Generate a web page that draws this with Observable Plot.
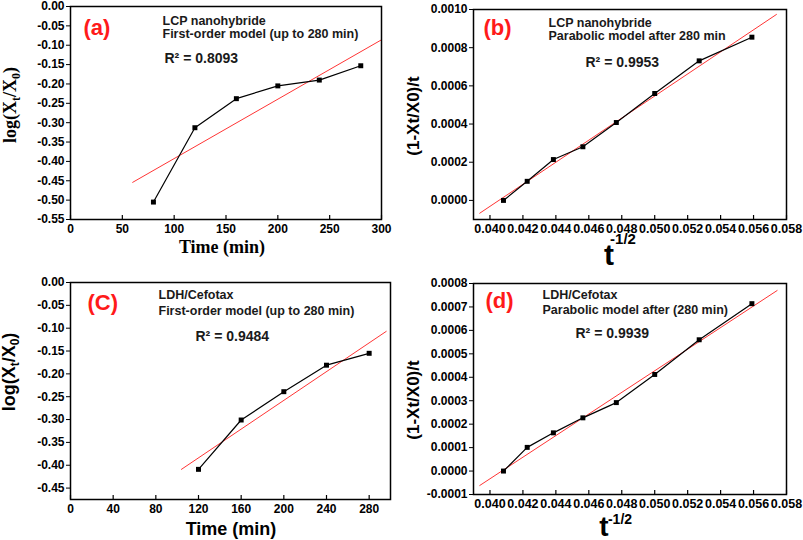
<!DOCTYPE html>
<html><head><meta charset="utf-8">
<script src="https://cdn.jsdelivr.net/npm/d3@7"></script>
<script src="https://cdn.jsdelivr.net/npm/@observablehq/plot@0.6"></script>
<style>
body{margin:0;background:#fff;}
#wrap{position:relative;width:803px;height:540px;overflow:hidden;background:#fff;}
#wrap svg{position:absolute;}
</style></head><body><div id="wrap"></div>
<script>
// ---- data ----
const timeA = [80, 120, 160, 200, 240, 280];
const logXA = [-0.505, -0.313, -0.238, -0.205, -0.190, -0.153];
const fitTimeA = [60, 300];
const fitLogA = [-0.454, -0.086];

const tInvB = [0.04082, 0.04226, 0.04385, 0.04564, 0.04767, 0.05000, 0.05270, 0.05590];
const parabB = [0.0000, 0.0001, 0.000214, 0.000281, 0.000408, 0.00056, 0.000731, 0.000855];
const fitXB = [0.03938, 0.05739];
const fitYB = [-0.000067, 0.000974];

const timeC = [120, 160, 200, 240, 280];
const logXC = [-0.409, -0.301, -0.239, -0.181, -0.155];
const fitTimeC = [104, 296];
const fitLogC = [-0.409, -0.107];

const tInvD = [0.04082, 0.04226, 0.04385, 0.04564, 0.04767, 0.05000, 0.05270, 0.05590];
const parabD = [0.0000, 0.000101, 0.000163, 0.000227, 0.000292, 0.000412, 0.00056, 0.000714];
const fitXD = [0.03938, 0.05743];
const fitYD = [-0.0000615, 0.00077];

// ---- tick values ----
const xTicksA = [0, 50, 100, 150, 200, 250, 300];
const yTicksA = [0, -0.05, -0.10, -0.15, -0.20, -0.25, -0.30, -0.35, -0.40, -0.45, -0.50, -0.55];
const xTicksB = [0.040, 0.042, 0.044, 0.046, 0.048, 0.050, 0.052, 0.054, 0.056, 0.058];
const yTicksB = [0, 0.0002, 0.0004, 0.0006, 0.0008, 0.0010];
const xTicksC = [0, 40, 80, 120, 160, 200, 240, 280];
const yTicksC = [0, -0.05, -0.10, -0.15, -0.20, -0.25, -0.30, -0.35, -0.40, -0.45];
const xTicksD = [0.040, 0.042, 0.044, 0.046, 0.048, 0.050, 0.052, 0.054, 0.056, 0.058];
const yTicksD = [-0.0001, 0, 0.0001, 0.0002, 0.0003, 0.0004, 0.0005, 0.0006, 0.0007, 0.0008];

// ---- texts ----
const tags = ["(a)", "(b)", "(C)", "(d)"];
const notesA = ["LCP nanohybride", "First-order model (up to 280 min)", "R² = 0.8093"];
const notesB = ["LCP nanohybride", "Parabolic model after 280 min", "R² = 0.9953"];
const notesC = ["LDH/Cefotax", "First-order model (up to 280 min)", "R² = 0.9484"];
const notesD = ["LDH/Cefotax", "Parabolic model after (280 min)", "R² = 0.9939"];

const wrap = document.getElementById("wrap");

function makePanel(c) {
  const innerH = c.height - c.mt - c.mb;
  const pts = c.xs.map((x, i) => ({x, y: c.ys[i]}));
  const fit = c.fx.map((x, i) => ({x, y: c.fy[i]}));
  const nf = {frameAnchor: "top-left", textAnchor: "start", lineAnchor: "middle",
              fontFamily: "Liberation Sans", fontWeight: "bold", fill: "#1a1a1a"};
  const svg = Plot.plot({
    width: c.width, height: c.height,
    marginTop: c.mt, marginRight: c.mr, marginBottom: c.mb, marginLeft: c.ml,
    x: {domain: c.xDomain},
    y: {domain: c.yDomain},
    style: {fontFamily: "Liberation Sans", fontSize: "12px", fontWeight: "bold", color: "#000", background: "transparent", overflow: "visible"},
    marks: [
      Plot.axisY(c.yTicks, {tickFormat: d => d.toFixed(c.yDec), tickSize: 4, tickPadding: 2, label: null, stroke: "black", fontSize: 12}),
      Plot.axisX(c.xTicks, {tickFormat: d => d.toFixed(c.xDec), tickSize: 0, tickPadding: 5, label: null, fontSize: c.xFs}),
      Plot.tickX(c.xTicks, {x: d => d, insetTop: innerH - 4, stroke: "black", strokeWidth: 1.2}),
      Plot.line(fit, {x: "x", y: "y", stroke: "#ff3535", strokeWidth: 1}),
      Plot.line(pts, {x: "x", y: "y", stroke: "black", strokeWidth: 1.2}),
      Plot.dot(pts, {x: "x", y: "y", symbol: "square", r: 2.8, fill: "black", stroke: null}),
      Plot.frame({stroke: "black", strokeWidth: 1.5}),
      Plot.text([c.tag], {text: d => d, ...nf, dx: c.tagPos[0], dy: c.tagPos[1], fill: "#ff1a1a", fontSize: 22}),
      Plot.text([c.notes[0]], {text: d => d, ...nf, dx: c.n1[0], dy: c.n1[1], fontSize: 12.5}),
      Plot.text([c.notes[1]], {text: d => d, ...nf, dx: c.n1[0], dy: c.n1[1] + c.lineGap, fontSize: 12.5}),
      Plot.text([c.notes[2]], {text: d => d, ...nf, dx: c.r2[0], dy: c.r2[1], fontSize: 14})
    ]
  });
  svg.style.left = c.left + "px";
  svg.style.top = c.top + "px";
  wrap.appendChild(svg);
  return d3.select(svg);
}

const sA = makePanel({left: 0, top: 0, width: 400, height: 270, mt: 6, mr: 19, mb: 51, ml: 70,
  xDomain: [0, 300], yDomain: [-0.55, 0], xTicks: xTicksA, yTicks: yTicksA, xDec: 0, yDec: 2, xFs: 12,
  xs: timeA, ys: logXA, fx: fitTimeA, fy: fitLogA, tag: tags[0], notes: notesA,
  tagPos: [13, 21], n1: [92, 14], lineGap: 13, r2: [94, 52]});
const sB = makePanel({left: 400, top: 0, width: 403, height: 270, mt: 9, mr: 17, mb: 51, ml: 73,
  xDomain: [0.039, 0.058], yDomain: [-0.0001, 0.0010], xTicks: xTicksB, yTicks: yTicksB, xDec: 3, yDec: 4, xFs: 12.5,
  xs: tInvB, ys: parabB, fx: fitXB, fy: fitYB, tag: tags[1], notes: notesB,
  tagPos: [10, 18], n1: [75, 13], lineGap: 13, r2: [112, 53]});
const sC = makePanel({left: 0, top: 270, width: 400, height: 270, mt: 12, mr: 10, mb: 41, ml: 70,
  xDomain: [0, 300], yDomain: [-0.475, 0], xTicks: xTicksC, yTicks: yTicksC, xDec: 0, yDec: 2, xFs: 12,
  xs: timeC, ys: logXC, fx: fitTimeC, fy: fitLogC, tag: tags[2], notes: notesC,
  tagPos: [17, 20], n1: [88, 12], lineGap: 16, r2: [125, 54]});
const sD = makePanel({left: 400, top: 270, width: 403, height: 270, mt: 13, mr: 17, mb: 46, ml: 73,
  xDomain: [0.039, 0.058], yDomain: [-0.0001, 0.0008], xTicks: xTicksD, yTicks: yTicksD, xDec: 3, yDec: 4, xFs: 12.5,
  xs: tInvD, ys: parabD, fx: fitXD, fy: fitYD, tag: tags[3], notes: notesD,
  tagPos: [12, 17], n1: [69, 11], lineGap: 15, r2: [102, 50]});

// ---- axis titles ----
function logTitle(sel, x, y, family) {
  const t = sel.append("text").attr("transform", `translate(${x},${y}) rotate(-90)`)
    .attr("text-anchor", "middle").attr("font-family", family).attr("font-weight", "bold")
    .attr("font-size", 18).attr("fill", "#000");
  t.append("tspan").text("log(X");
  t.append("tspan").attr("font-size", 12).attr("dy", 4).text("t");
  t.append("tspan").attr("dy", -4).text("/X");
  t.append("tspan").attr("font-size", 12).attr("dy", 4).text("0");
  t.append("tspan").attr("dy", -4).text(")");
}
function timeTitle(sel, x, y, family) {
  sel.append("text").attr("x", x).attr("y", y).attr("text-anchor", "middle")
    .attr("font-family", family).attr("font-weight", "bold").attr("font-size", 18)
    .attr("fill", "#000").text("Time (min)");
}
function parabTitle(sel, x, y) {
  sel.append("text").attr("transform", `translate(${x},${y}) rotate(-90)`)
    .attr("text-anchor", "middle").attr("font-family", "Liberation Sans").attr("font-weight", "bold")
    .attr("font-size", 17).attr("fill", "#000").text("(1-Xt/X0)/t");
}
function tTitle(sel, x, y, sx, sy, sfs, tfs) {
  sel.append("text").attr("x", x).attr("y", y).attr("font-family", "Liberation Sans")
    .attr("font-weight", "bold").attr("font-size", tfs).attr("fill", "#000").text("t");
  sel.append("text").attr("x", sx).attr("y", sy).attr("font-family", "Liberation Sans")
    .attr("font-weight", "bold").attr("font-size", sfs).attr("fill", "#000").text("-1/2");
}

logTitle(sA, 16, 105, "Liberation Serif");
timeTitle(sA, 222, 253, "Liberation Serif");
parabTitle(sB, 19, 116);
tTitle(sB, 209, 265, 223, 244, 15, 30);
logTitle(sC, 15, 102, "Liberation Sans");
timeTitle(sC, 231, 265, "Liberation Sans");
parabTitle(sD, 19, 130);
tTitle(sD, 204, 266, 220, 254, 14, 28);
</script></body></html>
